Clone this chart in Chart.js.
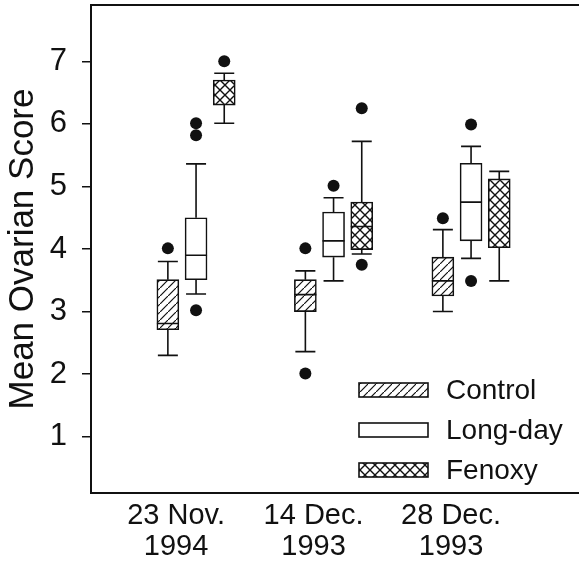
<!DOCTYPE html>
<html>
<head>
<meta charset="utf-8">
<script src="https://cdn.jsdelivr.net/npm/chart.js@4.4.1/dist/chart.umd.min.js"></script>
<style>
  html, body { margin: 0; padding: 0; background: #fff; }
  #wrap { width: 579px; height: 565px; }
</style>
</head>
<body>
<div id="wrap"><canvas id="ovaryChart"></canvas></div>
<script>
'use strict';

// categories (sampling dates) and series
var categories = [['23 Nov.', '1994'], ['14 Dec.', '1993'], ['28 Dec.', '1993']];
var seriesNames = ['Control', 'Long-day', 'Fenoxy'];
var yTicks = [1, 2, 3, 4, 5, 6, 7];

// box plot values per series, one entry per date
var controlLow = [2.30, 2.36, 3.00];
var controlQ1 = [2.71, 3.00, 3.25];
var controlMedian = [2.81, 3.27, 3.49];
var controlQ3 = [3.51, 3.51, 3.87];
var controlHigh = [3.80, 3.65, 4.31];
var controlOutliers = [[4.01], [4.01, 2.01], [4.49]];

var longdayLow = [3.28, 3.49, 3.85];
var longdayQ1 = [3.51, 3.87, 4.13];
var longdayMedian = [3.90, 4.13, 4.75];
var longdayQ3 = [4.50, 4.59, 5.37];
var longdayHigh = [5.36, 4.82, 5.64];
var longdayOutliers = [[6.01, 5.82, 3.02], [5.01], [5.99, 3.49]];

var fenoxyLow = [6.01, 3.92, 3.49];
var fenoxyQ1 = [6.30, 3.99, 4.02];
var fenoxyMedian = [null, 4.36, null];
var fenoxyQ3 = [6.70, 4.75, 5.12];
var fenoxyHigh = [6.81, 5.72, 5.24];
var fenoxyOutliers = [[7.00], [6.25, 3.75], []];

var boxes = [
    { low: controlLow, q1: controlQ1, med: controlMedian, q3: controlQ3, high: controlHigh, out: controlOutliers },
    { low: longdayLow, q1: longdayQ1, med: longdayMedian, q3: longdayQ3, high: longdayHigh, out: longdayOutliers },
    { low: fenoxyLow, q1: fenoxyQ1, med: fenoxyMedian, q3: fenoxyQ3, high: fenoxyHigh, out: fenoxyOutliers },
];

var seriesOffset = [-0.205, 0, 0.205];
var ink = '#111';
var fontFamily = '"Liberation Sans", Arial, Helvetica, sans-serif';

function makePattern(kind) {
    var c = document.createElement('canvas');
    var s = kind === 'hatch' ? 8 : 10;
    c.width = s;
    c.height = s;
    var g = c.getContext('2d');
    g.fillStyle = '#fff';
    g.fillRect(0, 0, s, s);
    g.strokeStyle = ink;
    g.lineWidth = kind === 'hatch' ? 1.2 : 1.4;
    g.beginPath();
    g.moveTo(-1, s + 1);
    g.lineTo(s + 1, -1);
    if (kind === 'cross') {
        g.moveTo(-1, -1);
        g.lineTo(s + 1, s + 1);
    }
    g.stroke();
    return g.createPattern(c, 'repeat');
}

var fills = [makePattern('hatch'), '#fff', makePattern('cross')];

var datasets = [];
boxes.forEach(function (b, s) {
    datasets.push({
        type: 'bar',
        label: seriesNames[s],
        data: b.q1.map(function (q1, g) {
            return { x: g + 1 + seriesOffset[s], y: [q1, b.q3[g]] };
        }),
        backgroundColor: fills[s],
        borderColor: ink,
        borderWidth: 1.6,
        borderSkipped: false,
        barThickness: 22,
        grouped: false,
    });
});
boxes.forEach(function (b, s) {
    var pts = [];
    b.out.forEach(function (list, g) {
        list.forEach(function (v) {
            pts.push({ x: g + 1 + seriesOffset[s], y: v });
        });
    });
    datasets.push({
        type: 'scatter',
        label: seriesNames[s] + ' outliers',
        data: pts,
        pointRadius: 6,
        pointBackgroundColor: ink,
        pointBorderColor: ink,
        pointBorderWidth: 0,
    });
});

// whiskers, caps and medians
var whiskerPlugin = {
    id: 'whiskers',
    afterDatasetsDraw: function (chart) {
        var ctx = chart.ctx;
        var xs = chart.scales.x;
        var ys = chart.scales.y;
        ctx.save();
        ctx.strokeStyle = ink;
        ctx.lineWidth = 1.6;
        boxes.forEach(function (b, s) {
            b.q1.forEach(function (q1, g) {
                var px = xs.getPixelForValue(g + 1 + seriesOffset[s]);
                var cap = 10;
                var yHi = ys.getPixelForValue(b.high[g]);
                var yQ3 = ys.getPixelForValue(b.q3[g]);
                var yQ1 = ys.getPixelForValue(q1);
                var yLo = ys.getPixelForValue(b.low[g]);
                ctx.beginPath();
                ctx.moveTo(px, yQ3);
                ctx.lineTo(px, yHi);
                ctx.moveTo(px - cap, yHi);
                ctx.lineTo(px + cap, yHi);
                ctx.moveTo(px, yQ1);
                ctx.lineTo(px, yLo);
                ctx.moveTo(px - cap, yLo);
                ctx.lineTo(px + cap, yLo);
                if (b.med[g] !== null) {
                    var yM = ys.getPixelForValue(b.med[g]);
                    ctx.moveTo(px - 11, yM);
                    ctx.lineTo(px + 11, yM);
                }
                ctx.stroke();
            });
        });
        ctx.restore();
    },
};

// top frame line and the in-plot legend
var framePlugin = {
    id: 'frame',
    afterDraw: function (chart) {
        var ctx = chart.ctx;
        var a = chart.chartArea;
        ctx.save();
        ctx.strokeStyle = ink;
        ctx.lineWidth = 2;
        ctx.beginPath();
        ctx.moveTo(a.left, a.top);
        ctx.lineTo(a.right, a.top);
        ctx.stroke();

        var left = a.right - 220;
        seriesNames.forEach(function (name, i) {
            var cy = a.bottom - 103 + i * 40;
            ctx.fillStyle = fills[i];
            ctx.fillRect(left, cy - 7, 69, 14);
            ctx.lineWidth = 1.6;
            ctx.strokeRect(left, cy - 7, 69, 14);
            ctx.fillStyle = ink;
            ctx.font = '28px ' + fontFamily;
            ctx.textAlign = 'left';
            ctx.textBaseline = 'middle';
            ctx.fillText(name, left + 87, cy + 1);
        });
        ctx.restore();
    },
};

new Chart(document.getElementById('ovaryChart'), {
    type: 'bar',
    data: { datasets: datasets },
    options: {
        responsive: true,
        maintainAspectRatio: false,
        animation: false,
        layout: { autoPadding: false, padding: { top: 5, right: 0, left: 0, bottom: 0 } },
        scales: {
            x: {
                type: 'linear',
                min: 0.236,
                max: 3.785,
                offset: false,
                afterBuildTicks: function (axis) {
                    axis.ticks = categories.map(function (c, i) { return { value: i + 1 }; });
                },
                afterFit: function (axis) {
                    axis.height = 72;
                    axis.paddingLeft = 0;
                    axis.paddingRight = 0;
                },
                grid: { display: false, drawTicks: false, offset: false },
                border: { display: true, color: ink, width: 2 },
                ticks: {
                    color: ink,
                    padding: 8,
                    labelOffset: -20,
                    maxRotation: 0,
                    autoSkip: false,
                    font: { family: fontFamily, size: 29, lineHeight: 1.05 },
                    callback: function (value) { return categories[Math.round(value) - 1]; },
                },
            },
            y: {
                min: 0.1,
                max: 7.9,
                afterBuildTicks: function (axis) {
                    axis.ticks = yTicks.map(function (v) { return { value: v }; });
                },
                afterFit: function (axis) {
                    axis.width = 91;
                    axis.paddingTop = 0;
                    axis.paddingBottom = 0;
                },
                grid: { display: true, drawOnChartArea: false, drawTicks: true, tickLength: 9, color: ink, lineWidth: 1.5 },
                border: { display: true, color: ink, width: 2 },
                ticks: {
                    color: ink,
                    padding: 15,
                    font: { family: fontFamily, size: 31 },
                },
                title: {
                    display: true,
                    text: 'Mean Ovarian Score',
                    color: ink,
                    padding: { top: 2, bottom: 0 },
                    font: { family: fontFamily, size: 35 },
                },
            },
        },
        plugins: {
            legend: { display: false },
            tooltip: { enabled: false },
        },
    },
    plugins: [whiskerPlugin, framePlugin],
});
</script>
</body>
</html>
